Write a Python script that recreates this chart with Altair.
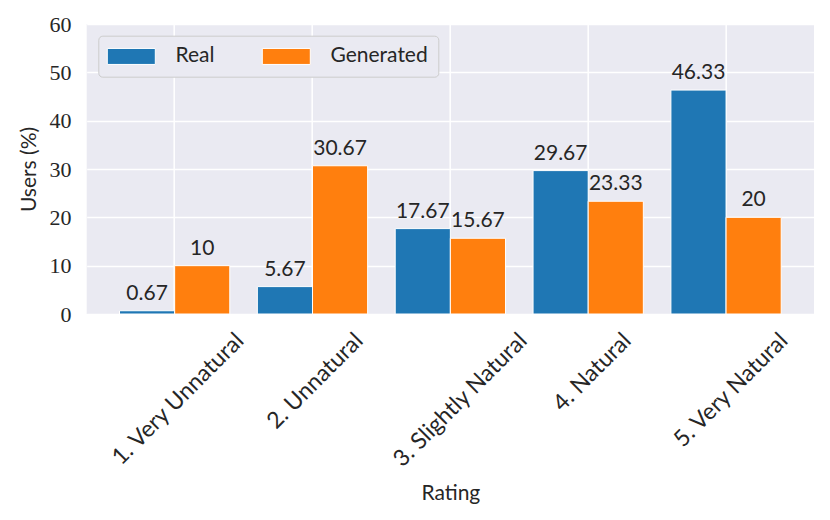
import altair as alt
import pandas as pd

ratings = ["1. Very Unnatural", "2. Unnatural", "3. Slightly Natural", "4. Natural", "5. Very Natural"]
real = [0.67, 5.67, 17.67, 29.67, 46.33]
generated = [10, 30.67, 15.67, 23.33, 20]
series = ["Real", "Generated"]
colors = ["#1f77b4", "#ff7f0e"]
y_ticks = [0, 10, 20, 30, 40, 50, 60]

rows = []
for i, r in enumerate(ratings):
    rows.append({"Rating": r, "Type": series[0], "Users": real[i]})
    rows.append({"Rating": r, "Type": series[1], "Users": generated[i]})
df = pd.DataFrame(rows)

SANS = "Lato"
SERIF = "Liberation Serif, Times New Roman, serif"
TXT = "#262626"

x = alt.X(
    "Rating:N",
    sort=ratings,
    scale=alt.Scale(paddingInner=0.2, paddingOuter=0.238),
    axis=alt.Axis(
        title="Rating",
        labelAngle=-45,
        labelAlign="right",
        labelBaseline="top",
        labelPadding=15,
        labelOffset={"expr": "3.75*length(datum.label) - 6"},
        labelOverlap=False,
        labelLimit=400,
        ticks=False,
        domain=False,
        grid=True,
        gridColor="white",
        gridWidth=1.5,
        labelFont=SANS,
        labelFontSize=23,
        labelColor=TXT,
        titleFont=SANS,
        titleFontSize=21,
        titleFontWeight="normal",
        titleColor=TXT,
        titleY=185,
        titleBaseline="alphabetic",
    ),
)
xo = alt.XOffset("Type:N", sort=series, scale=alt.Scale(paddingInner=0, paddingOuter=0))
y = alt.Y(
    "Users:Q",
    scale=alt.Scale(domain=[0, 60], nice=False),
    axis=alt.Axis(
        values=y_ticks,
        title="Users (%)",
        labelFont=SERIF,
        labelFontSize=22,
        labelColor=TXT,
        labelPadding=15.7,
        ticks=False,
        domain=False,
        gridColor="white",
        gridWidth=1.5,
        titleFont=SANS,
        titleFontSize=21,
        titleFontWeight="normal",
        titleColor=TXT,
        titleAngle=270,
        titleBaseline="bottom",
        titleX=-47,
    ),
)
color = alt.Color(
    "Type:N",
    sort=series,
    scale=alt.Scale(domain=series, range=colors),
    legend=alt.Legend(
        title=None,
        orient="none",
        legendX=11.6,
        legendY=11.7,
        direction="horizontal",
        columns=2,
        symbolType="M-3,-1H3V1H-3Z",
        symbolSize=256,
        symbolStrokeColor="white",
        symbolStrokeWidth=1,
        symbolOpacity=1,
        symbolOffset=12.5,
        labelOffset=33.7,
        columnPadding=45,
        padding=10,
        fillColor="#EAEAF2",
        strokeColor="#CCCCCC",
        cornerRadius=4,
        labelFont=SANS,
        labelFontSize=21,
        labelColor=TXT,
        labelBaseline="middle",
    ),
)

bars = alt.Chart(df).mark_bar(stroke="white", strokeWidth=1, opacity=1).encode(
    x=x, xOffset=xo, y=y, color=color
)
text = alt.Chart(df).mark_text(
    dy=-11, baseline="alphabetic", font=SANS, fontSize=21, color=TXT
).encode(x=x, xOffset=xo, y=y, text=alt.Text("Users:Q", format=".4~g"))

chart = (
    alt.layer(bars, text)
    .properties(
        width=727.3,
        height=290,
        padding={"left": 78.7, "top": 16, "right": 8, "bottom": 190},
        autosize=alt.AutoSizeParams(type="none"),
        background="white",
    )
    .configure_view(fill="#EAEAF2", stroke=None)
)

chart.save("out.html", embed_options={"renderer": "svg", "actions": False})
